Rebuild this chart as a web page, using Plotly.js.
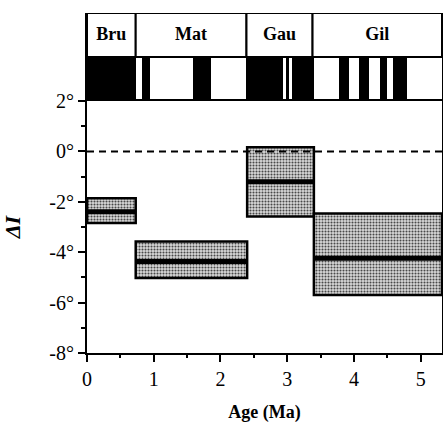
<!DOCTYPE html>
<html>
<head>
<meta charset="utf-8">
<script src="https://cdn.plot.ly/plotly-3.0.1.min.js"></script>
<style>html,body{margin:0;padding:0;background:#fff;}#chart{width:443px;height:426px;}</style>
</head>
<body>
<div id="chart"></div>
<script>
// Polarity time scale (normal = black)
const normStart = [0, 0.825, 1.59, 2.39, 2.975, 3.065, 3.78, 4.08, 4.39, 4.59];
const normEnd   = [0.73, 0.94, 1.855, 2.94, 3.03, 3.40, 3.93, 4.23, 4.49, 4.79];
// Chrons
const chronNames = ['Bru', 'Mat', 'Gau', 'Gil'];
const chronStart = [0, 0.73, 2.39, 3.38];
const chronEnd   = [0.73, 2.39, 3.38, 5.32];
// Inclination anomaly windows
const winStart = [0, 0.73, 2.40, 3.40];
const winEnd   = [0.73, 2.40, 3.40, 5.32];
const dIUpper  = [-1.86, -3.57, 0.17, -2.46];
const dILower  = [-2.84, -5.02, -2.58, -5.70];
const dIMean   = [-2.39, -4.37, -1.20, -4.24];
// Ticks
const yTickVals = [2, 0, -2, -4, -6, -8];
const yTickText = ['2°', '0°', '-2°', '-4°', '-6°', '-8°'];
const xMax = 5.32;

const serif = 'Times New Roman, Liberation Serif, DejaVu Serif, serif';
const traces = [];

// polarity bands
traces.push({
  type: 'bar', xaxis: 'x', yaxis: 'y2',
  x: normStart.map((s, i) => (s + normEnd[i]) / 2),
  width: normStart.map((s, i) => normEnd[i] - s),
  base: normStart.map(() => 0),
  y: normStart.map(() => 1),
  marker: {color: '#000', line: {width: 0}},
  hoverinfo: 'skip', showlegend: false
});
// chron label boxes
traces.push({
  type: 'bar', xaxis: 'x', yaxis: 'y2',
  x: chronStart.map((s, i) => (s + chronEnd[i]) / 2),
  width: chronStart.map((s, i) => chronEnd[i] - s),
  base: chronStart.map(() => 1),
  y: chronStart.map(() => 1),
  marker: {color: '#fff', line: {width: 2, color: '#000'}},
  hoverinfo: 'skip', showlegend: false
});
traces.push({
  type: 'scatter', mode: 'text', xaxis: 'x', yaxis: 'y2',
  x: chronStart.map((s, i) => (s + chronEnd[i]) / 2),
  y: chronStart.map(() => 1.5),
  text: chronNames,
  textfont: {family: serif, size: 18, color: '#000', weight: 'bold'},
  hoverinfo: 'skip', showlegend: false
});
// zero dashed line
traces.push({
  type: 'scatter', mode: 'lines', xaxis: 'x', yaxis: 'y',
  x: [0, xMax], y: [0, 0],
  line: {color: '#000', width: 2, dash: '7px,5px'},
  hoverinfo: 'skip', showlegend: false
});
// uncertainty boxes
traces.push({
  type: 'bar', xaxis: 'x', yaxis: 'y',
  x: winStart.map((s, i) => (s + winEnd[i]) / 2),
  width: winStart.map((s, i) => winEnd[i] - s),
  base: dILower,
  y: dIUpper.map((u, i) => u - dILower[i]),
  marker: {color: '#b8b8b8', line: {width: 2.5, color: '#000'},
           pattern: {shape: '.', fgcolor: '#444', bgcolor: '#dcdcdc', size: 3, solidity: 0.4}},
  hoverinfo: 'skip', showlegend: false
});
// mean lines
const mx = [], my = [];
winStart.forEach((s, i) => { mx.push(s, winEnd[i], null); my.push(dIMean[i], dIMean[i], null); });
traces.push({
  type: 'scatter', mode: 'lines', xaxis: 'x', yaxis: 'y',
  x: mx, y: my, line: {color: '#000', width: 5},
  hoverinfo: 'skip', showlegend: false
});

const layout = {
  width: 443, height: 426,
  margin: {l: 87, r: 1, t: 13, b: 73},
  paper_bgcolor: '#fff', plot_bgcolor: '#fff',
  barmode: 'overlay', bargap: 0,
  showlegend: false,
  font: {family: serif, color: '#000', size: 19},
  xaxis: {
    range: [0, xMax], domain: [0, 1], anchor: 'y',
    showgrid: false, zeroline: false,
    showline: true, linewidth: 2, linecolor: '#000', mirror: true,
    ticks: 'outside', ticklen: 7, tickwidth: 2, tickcolor: '#000',
    tickvals: [0, 1, 2, 3, 4, 5], ticktext: ['0', '1', '2', '3', '4', '5'],
    minor: {dtick: 0.5, tick0: 0, ticks: 'outside', ticklen: 3, tickwidth: 2, tickcolor: '#000'},
    tickfont: {family: serif, size: 20},
    title: {text: 'Age (Ma)', font: {family: serif, size: 18, weight: 'bold'}, standoff: 16}
  },
  yaxis: {
    range: [-8, 2], domain: [0, 0.741], anchor: 'x',
    showgrid: false, zeroline: false,
    showline: true, linewidth: 2, linecolor: '#000', mirror: true,
    ticks: 'outside', ticklen: 7, tickwidth: 2, tickcolor: '#000',
    tickvals: yTickVals, ticktext: yTickText,
    minor: {dtick: 1, tick0: 0, ticks: 'outside', ticklen: 4, tickwidth: 2, tickcolor: '#000'},
    tickfont: {family: serif, size: 20},
    title: {text: 'ΔI', font: {family: serif, size: 22, weight: 'bold', style: 'italic'}, standoff: 24}
  },
  yaxis2: {
    range: [0, 2], domain: [0.741, 1], anchor: 'x',
    showgrid: false, zeroline: false, showticklabels: false, ticks: '',
    showline: true, linewidth: 2, linecolor: '#000', mirror: true
  }
};

Plotly.newPlot('chart', traces, layout, {staticPlot: true, displayModeBar: false});
</script>
</body>
</html>
